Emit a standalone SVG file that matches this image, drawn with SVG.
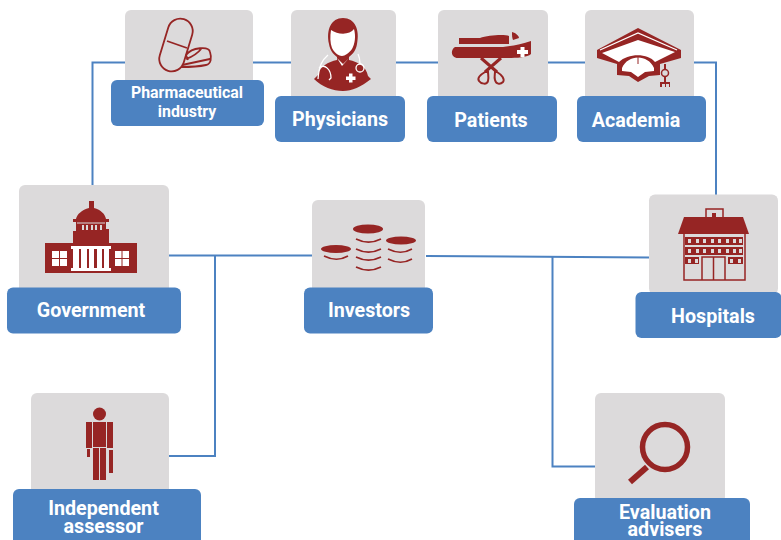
<svg xmlns="http://www.w3.org/2000/svg" width="781" height="540" viewBox="0 0 781 540">
<style>
.card{fill:#dcdadb}
.lab{fill:#4c82c1}
.t{fill:#fff;font-family:Roboto,"Liberation Sans",sans-serif;font-weight:700;text-anchor:middle;font-size:19.700px}
.s{font-size:15.900px}
.ic{fill:#962524}
.ol{fill:none;stroke:#962524}
.w{fill:#fff}
.wl{fill:none;stroke:#fff;stroke-width:1.300}
.c{fill:none;stroke:#4c82c1;stroke-width:2}
</style>
<rect width="781" height="540" fill="#fff"/>
<g id="connectors">
<path class="c" d="M92.500 186V62.500H716V195"/>
<path class="c" d="M169 255.500H313"/>
<path class="c" d="M215 256V456H169"/>
<path class="c" d="M426 256L650 257.500"/>
<path class="c" d="M552.500 257V466.500H595"/>
</g>
<g id="pharma">
<rect class="card" x="125" y="10" width="128" height="80" rx="6"/>
<rect class="lab" x="111" y="80" width="153" height="46" rx="6"/>
<g class="ol" stroke-width="1.800">
<rect x="-12.500" y="-27" width="25" height="54" rx="12.500" transform="translate(176 45) rotate(17)"/>
<path d="M167 41L187 48"/>
<path d="M186 55C192 47 209 46 210 52C212 58 211 64 206 65C197 67 190 67 181 67M186 55L188 60M182 65L210 59M186 59C192 57 198 53 202 48"/>
</g>
<text class="t s" x="187" y="98">Pharmaceutical</text>
<text class="t s" x="187" y="117">industry</text>
</g>
<g id="physicians">
<rect class="card" x="291" y="10" width="105" height="95" rx="6"/>
<rect class="lab" x="275" y="96" width="130" height="46" rx="6"/>
<path class="ic" d="M329 44C326 30 331 18 343 18C355 18 360 30 357 44C356 50 353 54 349 57V60C358 62 366 66 368 76L371 79C361 87 352 91 343 91C333 91 322 87 314 79L318 75C320 66 328 62 337 60V57C333 54 330 50 329 44Z"/>
<path class="w" d="M331 30C338 35 350 35 354 29C356 36 355 44 352 49C349 53 345 56 342 56C338 56 334 52 332 48C330 43 330 36 331 30Z"/>
<path class="w" d="M337 58L343 64L349 58L342 66Z"/>
<path class="wl" d="M328 55C322 60 319 66 318 79M319 68C325 63 331 70 331 78L329 80M358 54C360 58 360 60 360 64"/>
<circle class="wl" cx="360" cy="68" r="4"/>
<path class="w" d="M346 76.500H349V73.500H352.500V76.500H355.500V80H352.500V82.500H349V80H346Z"/>
<text class="t" x="340" y="126">Physicians</text>
</g>
<g id="patients">
<rect class="card" x="438" y="10" width="110" height="95" rx="6"/>
<rect class="lab" x="427" y="96" width="130" height="46" rx="6"/>
<path class="ic" d="M459 38H480C488 35 505 34 509 36V44H459ZM512 32C516 33 519 36 519 38L513 40C512 38 512 35 512 32Z"/>
<path class="ic" d="M455 47H503C512 46 522 44 531 41V54C527 58 514 58 505 58H458C451 58 450 50 455 47Z"/>
<path class="w" d="M517 50H520.500V47H524.500V50H528V54H524.500V57H520.500V54H517Z"/>
<path class="ol" stroke-width="3" d="M481 58L497 72M501 58L485 72"/>
<path fill="#dcdadb" stroke="#962524" stroke-width="2" d="M485 72C480 75 477 78 479 81C481 84 487 85 488 81C489 78 488 74 488 72ZM497 72C502 75 505 79 503 82C500 85 496 84 495 80C494 77 495 74 495 72Z"/>
<text class="t" x="491" y="127">Patients</text>
</g>
<g id="academia">
<rect class="card" x="585" y="10" width="109" height="95" rx="6"/>
<rect class="lab" x="577" y="96" width="129" height="46" rx="6"/>
<path class="ic" d="M638 28L681 50V58L660 64V75L649 76L638 82L629 76L617 75V64L597 58V50Z"/>
<path class="wl" d="M600 50L638 33L677 50"/>
<path class="w" d="M638 40L675 52L655 62C648 53 628 53 619 62L602 53Z"/>
<path class="w" d="M622 68C628 54 648 54 654 68V71L645 72L638 77L631 72L622 71Z"/>
<path d="M638 56V64" stroke="#962524" stroke-width="1"/>
<circle cx="665" cy="73" r="3.500" fill="#dcdadb" stroke="#962524" stroke-width="1.500"/>
<path class="ic" d="M660 82H670V87H669V84H666V87H665V84H662V87H660Z M664 64H666V69H664ZM664 77H666V84H664Z"/>
<text class="t" x="636" y="127">Academia</text>
</g>
<g id="government">
<rect class="card" x="19" y="185" width="150" height="115" rx="6"/>
<rect class="lab" x="7" y="287.500" width="174" height="46" rx="6"/>
<path class="ic" d="M89 201H94V208C101 210 105 214 106 219H109V222H106V229H109V243H137V273H45V243H73V231H76V222H73V219H76C77 214 82 210 89 208Z"/>
<path d="M77 223H105" stroke="#dcdadb" stroke-width="1"/>
<path d="M83 225V230M87 225V230M92 225V230M96 225V230M101 225V230" stroke="#dcdadb" stroke-width="2"/>
<path class="w" d="M71 246H111V249H109V268H111V271H71V268H73V249H71ZM79 249V268H81V249ZM87 249V268H89V249ZM94 249V268H97V249ZM102 249V268H104V249Z"/>
<path class="w" d="M52 251H67V266H52ZM115 251H129V266H115Z"/>
<path d="M59.500 251V266M52 258.500H67M122 251V266M115 258.500H129" stroke="#962524"/>
<text class="t" x="91" y="317">Government</text>
</g>
<g id="investors">
<rect class="card" x="312" y="200" width="113" height="95" rx="6"/>
<rect class="lab" x="304" y="287.500" width="129" height="46" rx="6"/>
<ellipse class="ic" cx="336" cy="249" rx="15" ry="4"/><ellipse class="ic" cx="368" cy="229" rx="15" ry="4.500"/><ellipse class="ic" cx="401" cy="240.500" rx="15" ry="4"/>
<path class="ol" stroke-width="1.600" d="M324 256C332 260 341 260 348 256M356 239C364 243 373 243 381 239M356 249C364 253 373 253 381 249M356 257C364 261 373 261 381 257M356 267C364 271 373 271 381 267M388 249C396 253 405 253 412 249M388 259C396 263 405 263 412 259"/>
<text class="t" x="369" y="317">Investors</text>
</g>
<g id="hospitals">
<rect class="card" x="649" y="194.500" width="129" height="100" rx="6"/>
<rect class="lab" x="635.500" y="292" width="146" height="46" rx="6"/>
<path class="ic" d="M684 217H743L749 234H678Z"/>
<path class="ol" stroke-width="1.500" d="M706 217V209H723V217"/>
<rect class="ic" x="712" y="213" width="4" height="5"/>
<path class="ol" stroke-width="1.500" d="M684 234V280H745V234M702 280V257H725V280M713.500 257V280"/>
<path class="ic" d="M685 237H743V245H685ZM685 247H743V255H685ZM685 257H699V264H685ZM728 257H743V264H728Z"/>
<path fill="#dcdadb" d="M688 239h3v4h-3zM696 239h3v4h-3zM703 239h3v4h-3zM711 239h3v4h-3zM718 239h3v4h-3zM726 239h3v4h-3zM733 239h3v4h-3zM739 239h3v4h-3zM688 249h3v4h-3zM696 249h3v4h-3zM703 249h3v4h-3zM711 249h3v4h-3zM718 249h3v4h-3zM726 249h3v4h-3zM733 249h3v4h-3zM739 249h3v4h-3zM688 259h3v4h-3zM695 259h3v4h-3zM730 259h3v4h-3zM738 259h3v4h-3z"/>
<text class="t" x="713" y="323">Hospitals</text>
</g>
<g id="assessor">
<rect class="card" x="31" y="393" width="138" height="105" rx="6"/>
<rect class="lab" x="13" y="489" width="188" height="60" rx="6"/>
<circle class="ic" cx="99.500" cy="414" r="6.500"/>
<path class="ic" d="M86 422H92V448H86ZM93 422H106V447H93ZM107 422H113V448H107ZM87 449H90V457H87ZM109 450H113V473H109ZM93 448H99V480H93ZM100 448H106V480H100Z"/>
<text class="t"><tspan x="103.500" y="515">Independent</tspan><tspan x="103.500" y="533">assessor</tspan></text>
</g>
<g id="evaluation">
<rect class="card" x="595" y="393" width="130" height="110" rx="6"/>
<rect class="lab" x="574" y="498" width="176" height="55" rx="6"/>
<circle cx="665" cy="447" r="22.500" fill="none" stroke="#962524" stroke-width="5.500"/>
<path d="M647 467L630 482" stroke="#962524" stroke-width="6"/>
<text class="t"><tspan x="665" y="519">Evaluation</tspan><tspan x="665" y="536">advisers</tspan></text>
</g>
</svg>
